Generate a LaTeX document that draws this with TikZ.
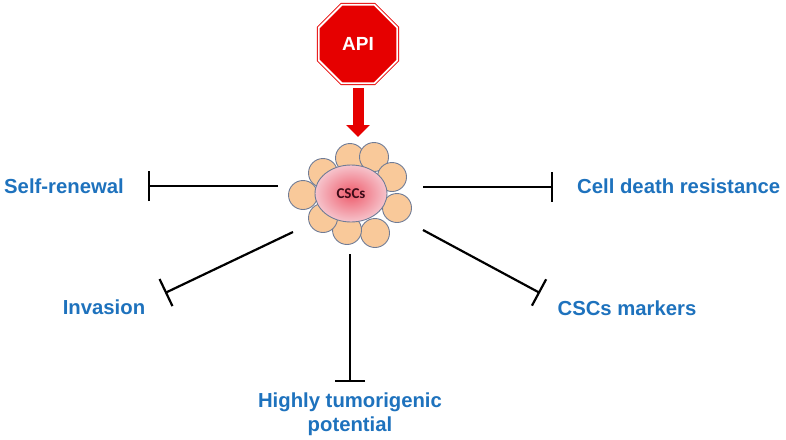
\documentclass[tikz,border=0pt]{standalone}
\usepackage{fontspec}
\setmainfont{Liberation Sans}
\newfontfamily\cscfont{Carlito}
\usepackage{tikz}
\usetikzlibrary{
  arrows.meta,
  shapes.geometric}
\definecolor{apired}{RGB}{230,0,0}
\definecolor{labelblue}{RGB}{30,114,189}
\definecolor{cellorange}{RGB}{249,201,154}
\definecolor{cellline}{RGB}{112,124,150}
\definecolor{coremid}{RGB}{238,92,108}
\definecolor{coreedge}{RGB}{246,196,204}
\definecolor{coretext}{RGB}{60,12,24}

\begin{document}
\begin{tikzpicture}[x=1pt,y=-1pt,
  stopsign/.style={regular polygon,regular polygon sides=8,minimum size=85pt,
    fill=apired,draw=apired,line width=1pt,double=white,double distance=1.8pt,
    text=white,font=\fontsize{19}{19}\selectfont\bfseries},
  cell/.style={fill=cellorange,draw=cellline,line width=0.9pt},
  label/.style={text=labelblue,inner sep=0pt,font=\fontsize{20.3}{24}\selectfont\bfseries},
  inhibit/.style={line width=2.2pt,-{Bar[width=30pt]}}]
\useasboundingbox (0,0) rectangle (786,439);
\node[stopsign] (api) at (358,44) {API};
\coordinate (arrowtop) at (358,88);
\coordinate (arrowtip) at (358,137);
\draw[apired,line width=11pt,-{Triangle[width=23pt,length=12pt]}] (arrowtop) -- (arrowtip);
\foreach \x/\y in {350/158,374/157,392/177,397/208,375/233,347/230,323/218,303/195,323/173}
  \draw[cell] (\x,\y) circle (14.5);
\node[ellipse,minimum width=72pt,minimum height=57pt,draw=cellline,line width=0.9pt,
  inner color=coremid,outer color=coreedge,text=coretext,
  font=\cscfont\fontsize{15}{15}\selectfont\bfseries] (cscs) at (351,193.5) {CSCs};
\node[label,anchor=base west] (selfrenewal) at (4,193) {Self-renewal};
\node[label,anchor=base west] (celldeath) at (577,193) {Cell death resistance};
\node[label,anchor=base] (invasion) at (104,314) {Invasion};
\node[label,anchor=base] (markers) at (627,315) {CSCs markers};
\node[label,align=center] (tumorigenic) at (350,414) {Highly tumorigenic\\potential};
\coordinate (srstart) at (278,186);
\coordinate (srend) at (148,186);
\coordinate (cdstart) at (423,187);
\coordinate (cdend) at (553,187);
\coordinate (invstart) at (293,232);
\coordinate (invend) at (165,293);
\coordinate (mkstart) at (423,230);
\coordinate (mkend) at (540,293);
\coordinate (tustart) at (350,254);
\coordinate (tuend) at (350,382);
\draw[inhibit] (srstart) -- (srend);
\draw[inhibit] (cdstart) -- (cdend);
\draw[inhibit] (invstart) -- (invend);
\draw[inhibit] (mkstart) -- (mkend);
\draw[inhibit] (tustart) -- (tuend);
\end{tikzpicture}
\end{document}
